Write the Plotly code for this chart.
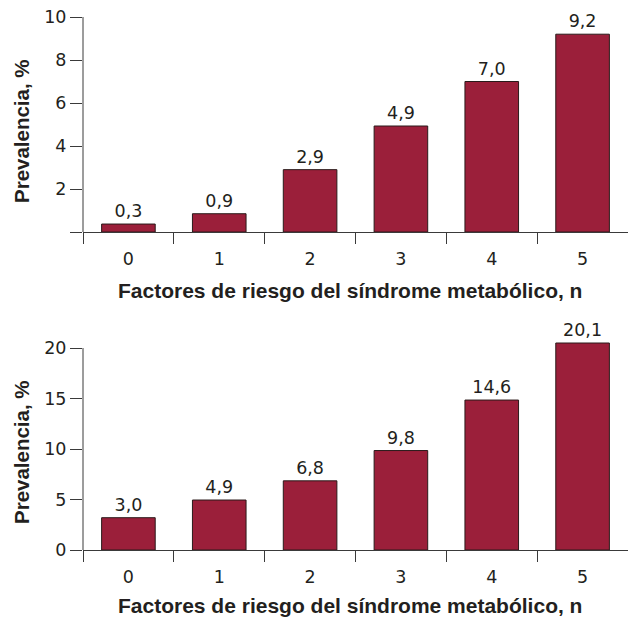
import plotly.graph_objects as go

categories = [0, 1, 2, 3, 4, 5]
top_values = [0.37, 0.85, 2.9, 4.93, 7.0, 9.2]
top_labels = ["0,3", "0,9", "2,9", "4,9", "7,0", "9,2"]
bottom_values = [3.2, 4.95, 6.85, 9.85, 14.85, 20.5]
bottom_labels = ["3,0", "4,9", "6,8", "9,8", "14,6", "20,1"]
top_ticks = [0, 2, 4, 6, 8, 10]
top_ticktext = ["", "2", "4", "6", "8", "10"]
bottom_ticks = [0, 5, 10, 15, 20]
bottom_ticktext = ["0", "5", "10", "15", "20"]
boundaries = [-0.5, 0.5, 1.5, 2.5, 3.5, 4.5]
x_title = "Factores de riesgo del síndrome metabólico, n"
y_title = "Prevalencia, %"

BAR = "#9b1f3a"
INK = "#231f20"
AX = "#3a3a3a"
TICKFONT = "DejaVu Sans, Liberation Sans, sans-serif"
TITLEFONT = "Liberation Sans, Arial, sans-serif"

fig = go.Figure()
for vals, labs, xa, ya in [(top_values, top_labels, "x", "y"), (bottom_values, bottom_labels, "x2", "y2")]:
    fig.add_trace(go.Bar(
        x=categories, y=vals, text=labs, textposition="outside",
        textfont=dict(size=17.5, color=INK, family=TICKFONT),
        marker=dict(color=BAR, line=dict(color="#2a1a1a", width=1)),
        width=0.59, cliponaxis=False, xaxis=xa, yaxis=ya, showlegend=False,
        hoverinfo="skip",
    ))

H = 619.0
W = 628.0
xdom = [83 / W, 1.0]
top_dom = [1 - 232 / H, 1 - 17 / H]
bot_dom = [1 - 550 / H, 1 - 342 / H]

xcommon = dict(
    range=[-0.5, 5.5], tickmode="array", tickvals=categories,
    ticktext=[str(c) for c in categories], ticks="outside", ticklen=11,
    tickcolor="rgba(0,0,0,0)",
    showline=True, linecolor=AX, linewidth=1, showgrid=False, zeroline=False,
    tickfont=dict(size=17.5, color=INK, family=TICKFONT),
    minor=dict(tickmode="array", tickvals=boundaries, ticks="outside", ticklen=11,
               tickcolor=AX, tickwidth=1, showgrid=False),
    domain=xdom, automargin=False, fixedrange=True,
)
ycommon = dict(
    ticks="outside", ticklen=12, tickcolor=AX, tickwidth=1, showline=False,
    showgrid=False, zeroline=False, tickfont=dict(size=17.5, color=INK, family=TICKFONT),
    automargin=False, tickmode="array", fixedrange=True,
)

fig.update_layout(
    width=628, height=619, margin=dict(l=0, r=0, t=0, b=0),
    plot_bgcolor="white", paper_bgcolor="white", bargap=0.4,
    font=dict(family=TICKFONT, color=INK),
    xaxis=dict(**xcommon, anchor="y"),
    xaxis2=dict(**xcommon, anchor="y2"),
    yaxis=dict(**ycommon, domain=top_dom, range=[0, 10], tickvals=top_ticks,
               ticktext=top_ticktext, anchor="x"),
    yaxis2=dict(**ycommon, domain=bot_dom, range=[0, 20.6], tickvals=bottom_ticks,
                ticktext=bottom_ticktext, anchor="x2"),
)

# y-axis lines up to the highest tick
fig.add_shape(type="line", xref="x domain", yref="y", x0=0, x1=0, y0=0, y1=top_ticks[-1],
              line=dict(color=AX, width=1))
fig.add_shape(type="line", xref="x2 domain", yref="y2", x0=0, x1=0, y0=0, y1=bottom_ticks[-1],
              line=dict(color=AX, width=1))

# axis titles
for ty in [290, 605]:
    fig.add_annotation(x=350 / W, y=1 - ty / H, xref="paper", yref="paper",
                       text=f"<b>{x_title}</b>", xanchor="center", yanchor="middle",
                       showarrow=False, font=dict(size=21, color=INK, family=TITLEFONT))
for ty in [131, 452]:
    fig.add_annotation(x=21 / W, y=1 - ty / H, xref="paper", yref="paper",
                       text=f"<b>{y_title}</b>", textangle=-90, xanchor="center", yanchor="middle",
                       showarrow=False, font=dict(size=20.5, color=INK, family=TITLEFONT))

fig.write_html("out.html", config={"displayModeBar": False, "staticPlot": True},
               post_script="document.body.style.margin='0px';")
